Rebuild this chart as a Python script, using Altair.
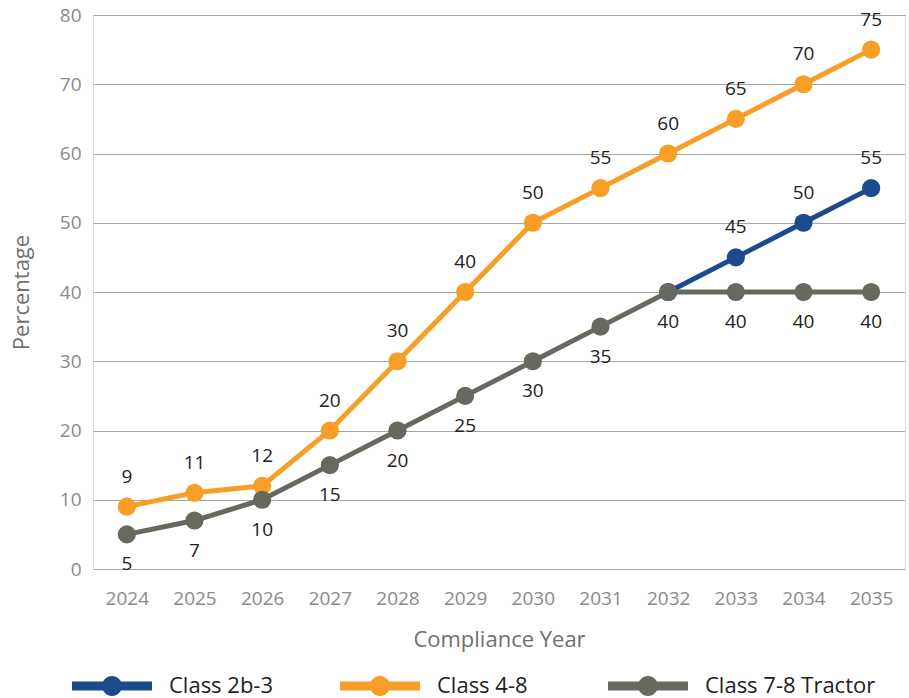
import altair as alt
import pandas as pd

# Compliance schedule (percentage of new sales) by vehicle class
years = [str(y) for y in range(2024, 2036)]
class_4_8 = [9, 11, 12, 20, 30, 40, 50, 55, 60, 65, 70, 75]
class_7_8_tractor = [5, 7, 10, 15, 20, 25, 30, 35, 40, 40, 40, 40]
class_2b_3_years = ["2032", "2033", "2034", "2035"]
class_2b_3 = [40, 45, 50, 55]

series_names = ["Class 2b-3", "Class 4-8", "Class 7-8 Tractor"]
series_colors = ["#1b4b8c", "#f89d26", "#666a5e"]

rows = []
for y, v in zip(class_2b_3_years, class_2b_3):
    rows.append({"year": y, "value": v, "series": "Class 2b-3"})
for y, v in zip(years, class_4_8):
    rows.append({"year": y, "value": v, "series": "Class 4-8"})
for y, v in zip(years, class_7_8_tractor):
    rows.append({"year": y, "value": v, "series": "Class 7-8 Tractor"})
df = pd.DataFrame(rows)

FONT = "Open Sans"

# legend swatch: a thick bar (80px) with a dot in the middle, drawn on a 20px symbol
swatch = ("M-4,-0.45H4V0.45H-4Z "
          "M1,0A1,1 0 1,1 -1,0A1,1 0 1,1 1,0Z")

x_enc = alt.X("year:O", sort=years,
              scale=alt.Scale(type="point", padding=0.5),
              axis=alt.Axis(title="Compliance Year", labelAngle=0,
                            labelFontSize=19, labelColor="#8a8a8a",
                            labelPadding=20, ticks=False, domain=False,
                            titleFontSize=22, titleColor="#707070",
                            titleFontWeight="normal", titlePadding=21,
                            labelFont=FONT, titleFont=FONT))
y_enc = alt.Y("value:Q",
              scale=alt.Scale(domain=[0, 80], nice=False),
              axis=alt.Axis(title="Percentage", values=list(range(0, 90, 10)),
                            labelFontSize=19, labelColor="#8a8a8a",
                            labelPadding=12, ticks=False, domain=False,
                            grid=True, gridColor="#a6a6a6", gridWidth=1,
                            titleFontSize=22, titleColor="#707070",
                            titleFontWeight="normal", titlePadding=26,
                            labelFont=FONT, titleFont=FONT))
color_enc = alt.Color("series:N",
                      scale=alt.Scale(domain=series_names, range=series_colors),
                      legend=alt.Legend(title=None, orient="none",
                                        legendX=8, legendY=660,
                                        direction="horizontal", columns=3,
                                        gridAlign="all",
                                        symbolType=swatch, symbolSize=400,
                                        symbolStrokeWidth=0, symbolOpacity=1,
                                        labelFontSize=22, labelColor="#222222",
                                        labelFont=FONT, labelOffset=46,
                                        labelLimit=300, columnPadding=0))

base = alt.Chart(df)

lines = base.mark_line(strokeWidth=5).encode(
    x=x_enc, y=y_enc, color=color_enc, detail="series:N")
points = base.mark_point(filled=True, size=330, opacity=1).encode(
    x=x_enc, y=y_enc, color=color_enc)

label_style = dict(fontSize=19, font=FONT, color="#222222")
labels_above = base.transform_filter(
    "datum.series != 'Class 7-8 Tractor' && !(datum.series == 'Class 2b-3' && datum.year == '2032')"
).mark_text(dy=-30, **label_style).encode(
    x=x_enc, y=y_enc, text="value:Q")
labels_below = base.transform_filter(
    "datum.series == 'Class 7-8 Tractor'"
).mark_text(dy=30, **label_style).encode(
    x=x_enc, y=y_enc, text="value:Q")

chart = alt.layer(lines, points, labels_above, labels_below).properties(
    width=812, height=554,
    padding={"left": 10, "top": 6, "right": 4, "bottom": 2},
).configure_view(stroke=None).configure(background="white")

chart.save("out.html", embed_options={"renderer": "svg", "actions": False})
